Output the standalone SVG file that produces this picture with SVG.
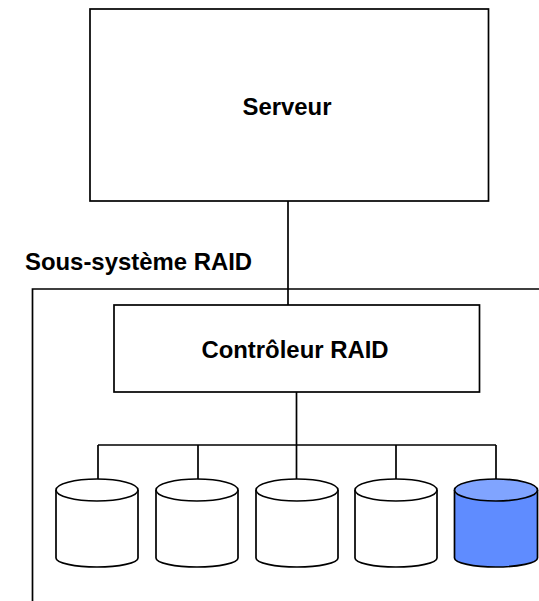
<svg xmlns="http://www.w3.org/2000/svg" width="539" height="601" viewBox="0 0 539 601">
<style>
.b{fill:#fff;stroke:#000;stroke-width:1.7}
.l{fill:none;stroke:#000;stroke-width:1.7}
.t{font-family:"Liberation Sans",Arial,sans-serif;font-weight:bold;font-size:23.900px;fill:#000}
.m{text-anchor:middle}
</style>
<defs>
<g id="cyl">
<path d="M-41 11V79C-41 84 -22 88 0 88C22 88 41 84 41 79V11"/>
<ellipse cx="0" cy="11" rx="41" ry="11"/>
</g>
</defs>
<rect width="539" height="601" fill="#fff"/>
<g id="connectors">
<path class="l" d="M288 201V305"/>
<path class="l" d="M32.500 601V289H539"/>
<path class="l" d="M296.500 392V445M98 445H496M98 445V479M198 445V479M296.500 445V479M396 445V479M496 445V479"/>
</g>
<g id="serveur">
<rect class="b" x="90" y="9" width="398.500" height="192"/>
<text class="t m" x="287" y="114.700">Serveur</text>
</g>
<text id="sous-systeme" class="t" x="25" y="269.500">Sous-système RAID</text>
<g id="controleur">
<rect class="b" x="114" y="305" width="365.500" height="87"/>
<text class="t m" x="295" y="357.500">Contrôleur RAID</text>
</g>
<g id="disk1" class="b" transform="translate(97 479)"><use href="#cyl"/></g>
<g id="disk2" class="b" transform="translate(197 479)"><use href="#cyl"/></g>
<g id="disk3" class="b" transform="translate(297 479)"><use href="#cyl"/></g>
<g id="disk4" class="b" transform="translate(396 479)"><use href="#cyl"/></g>
<g id="disk5" transform="translate(496 479)">
<path d="M-41.500 11V79C-41.500 84 -22 88 0 88C22 88 41.500 84 41.500 79V11" fill="#5f8cff" stroke="#000" stroke-width="1.700"/>
<ellipse cx="0" cy="11" rx="41.500" ry="11" fill="#80a4ff" stroke="#000" stroke-width="1.700"/>
</g>
</svg>
